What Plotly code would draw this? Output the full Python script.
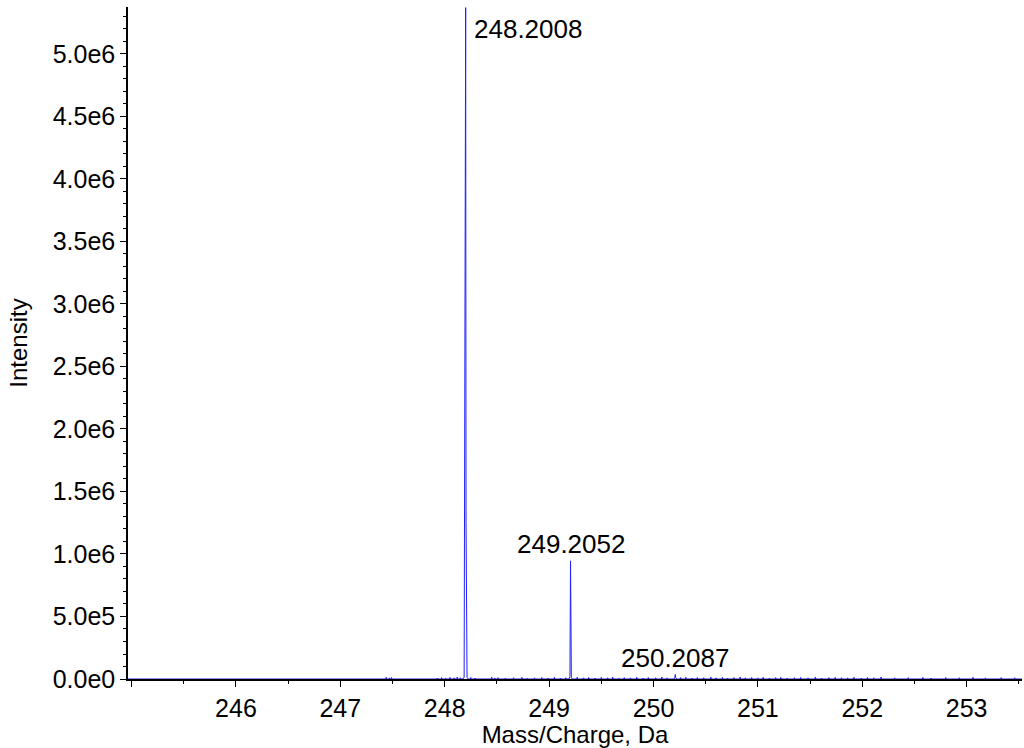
import plotly.graph_objects as go

# Profile points of the three isotope peaks (m/z, intensity)
peak1_mz = [248.175, 248.186, 248.1905, 248.1960, 248.2008, 248.2042, 248.2080, 248.2140, 248.225]
peak1_int = [0, 15000, 1200000, 4420000, 5370000, 1250000, 260000, 12000, 0]

peak2_mz = [249.190, 249.1995, 249.2052, 249.2088, 249.2130, 249.222]
peak2_int = [0, 20000, 945000, 370000, 10000, 0]

peak3_mz = [250.195, 250.2040, 250.2087, 250.2130, 250.222]
peak3_int = [0, 8000, 36000, 9000, 0]

# Baseline noise spikes
noise_mz = [247.44, 247.47, 247.49, 247.93, 247.97, 248.01, 248.05, 248.09, 248.12,
            248.15, 248.25, 248.29, 248.45, 248.48, 248.51, 248.58, 248.66, 248.74,
            248.79, 248.86, 248.93, 248.99, 249.05, 249.11, 249.16, 249.27, 249.33,
            249.38, 249.44, 249.50, 249.56, 249.61, 249.67, 249.72, 249.78, 249.84,
            249.90, 249.95, 250.02, 250.08, 250.13, 250.26, 250.31, 250.37, 250.42,
            250.48, 250.55, 250.60, 250.66, 250.71, 250.77, 250.83, 250.88, 250.94,
            251.00, 251.05, 251.11, 251.17, 251.22, 251.28, 251.35, 251.41, 251.48,
            251.55, 251.61, 251.68, 251.74, 251.80, 251.86, 251.92, 251.99, 252.05,
            252.11, 252.18, 252.31, 252.44, 252.58, 252.66, 252.80, 252.93, 253.06,
            253.18, 253.33, 253.46]
noise_int = [14000, 9000, 12000, 8000, 11000, 7000, 13000, 9000, 16000,
             10000, 12000, 8000, 15000, 9000, 11000, 7000, 10000, 13000,
             6000, 9000, 12000, 8000, 14000, 7000, 10000, 16000, 9000,
             12000, 8000, 13000, 10000, 15000, 7000, 11000, 9000, 14000,
             8000, 12000, 10000, 16000, 9000, 11000, 14000, 8000, 12000,
             10000, 15000, 9000, 13000, 7000, 11000, 16000, 10000, 12000,
             9000, 14000, 8000, 11000, 13000, 7000, 10000, 12000, 9000,
             15000, 8000, 11000, 13000, 10000, 9000, 14000, 8000, 12000,
             10000, 16000, 9000, 11000, 13000, 8000, 12000, 10000, 14000,
             9000, 11000, 10000]

peak_labels = ["248.2008", "249.2052", "250.2087"]
label_mz = [248.2008, 249.2052, 250.2087]
label_int = [5370000, 945000, 36000]

x_ticks = [245, 246, 247, 248, 249, 250, 251, 252, 253]
x_tick_text = ["", "246", "247", "248", "249", "250", "251", "252", "253"]
y_ticks = [0, 500000, 1000000, 1500000, 2000000, 2500000, 3000000, 3500000,
           4000000, 4500000, 5000000]
y_tick_text = ["0.0e0", "5.0e5", "1.0e6", "1.5e6", "2.0e6", "2.5e6", "3.0e6",
               "3.5e6", "4.0e6", "4.5e6", "5.0e6"]

# Merge peaks and noise stems into a single sorted profile
points = list(zip(peak1_mz, peak1_int)) + list(zip(peak2_mz, peak2_int)) + list(zip(peak3_mz, peak3_int))
for m, h in zip(noise_mz, noise_int):
    points += [(m - 0.004, 0), (m, h), (m + 0.004, 0)]
points += [(244.9, 0), (253.6, 0)]
points.sort(key=lambda p: p[0])
mz = [p[0] for p in points]
inten = [p[1] for p in points]

FONT = "Liberation Sans, Arial, sans-serif"

fig = go.Figure()
fig.add_trace(go.Scatter(
    x=mz, y=inten, mode="lines",
    line=dict(color="#2020ff", width=1),
    hoverinfo="x+y", showlegend=False,
))

anchors = [("left", "top", 6, -4), ("center", "bottom", 0, 0), ("center", "bottom", 0, 0)]
for txt, xm, yi, (xa, ya, xs, ys) in zip(peak_labels, label_mz, label_int, anchors):
    fig.add_annotation(x=xm, y=yi, text=txt, showarrow=False, xanchor=xa, yanchor=ya,
                       xshift=xs, yshift=ys, font=dict(family=FONT, size=26, color="black"))

fig.update_layout(
    width=1024, height=748,
    margin=dict(l=128, r=2, t=7, b=69),
    paper_bgcolor="white", plot_bgcolor="white",
    font=dict(family=FONT, size=25, color="black"),
    xaxis=dict(
        range=[244.966, 253.53],
        tickmode="array", tickvals=x_ticks, ticktext=x_tick_text,
        ticks="outside", ticklen=6, tickwidth=1, tickcolor="black",
        showline=True, linecolor="black", linewidth=1.5,
        showgrid=False, zeroline=False,
        minor=dict(dtick=0.5, tick0=244.5, ticks="outside", ticklen=3, tickcolor="black"),
        title=dict(text="Mass/Charge, Da", font=dict(size=24), standoff=4),
        tickfont=dict(size=25),
    ),
    yaxis=dict(
        range=[0, 5375000],
        tickmode="array", tickvals=y_ticks, ticktext=y_tick_text,
        ticks="outside", ticklen=6, tickwidth=1, tickcolor="black",
        showline=True, linecolor="black", linewidth=1.5,
        showgrid=False, zeroline=False,
        minor=dict(dtick=100000, tick0=0, ticks="outside", ticklen=3, tickcolor="black"),
        title=dict(text="Intensity", font=dict(size=24), standoff=18),
        tickfont=dict(size=25),
    ),
)

fig.write_html("out.html")
